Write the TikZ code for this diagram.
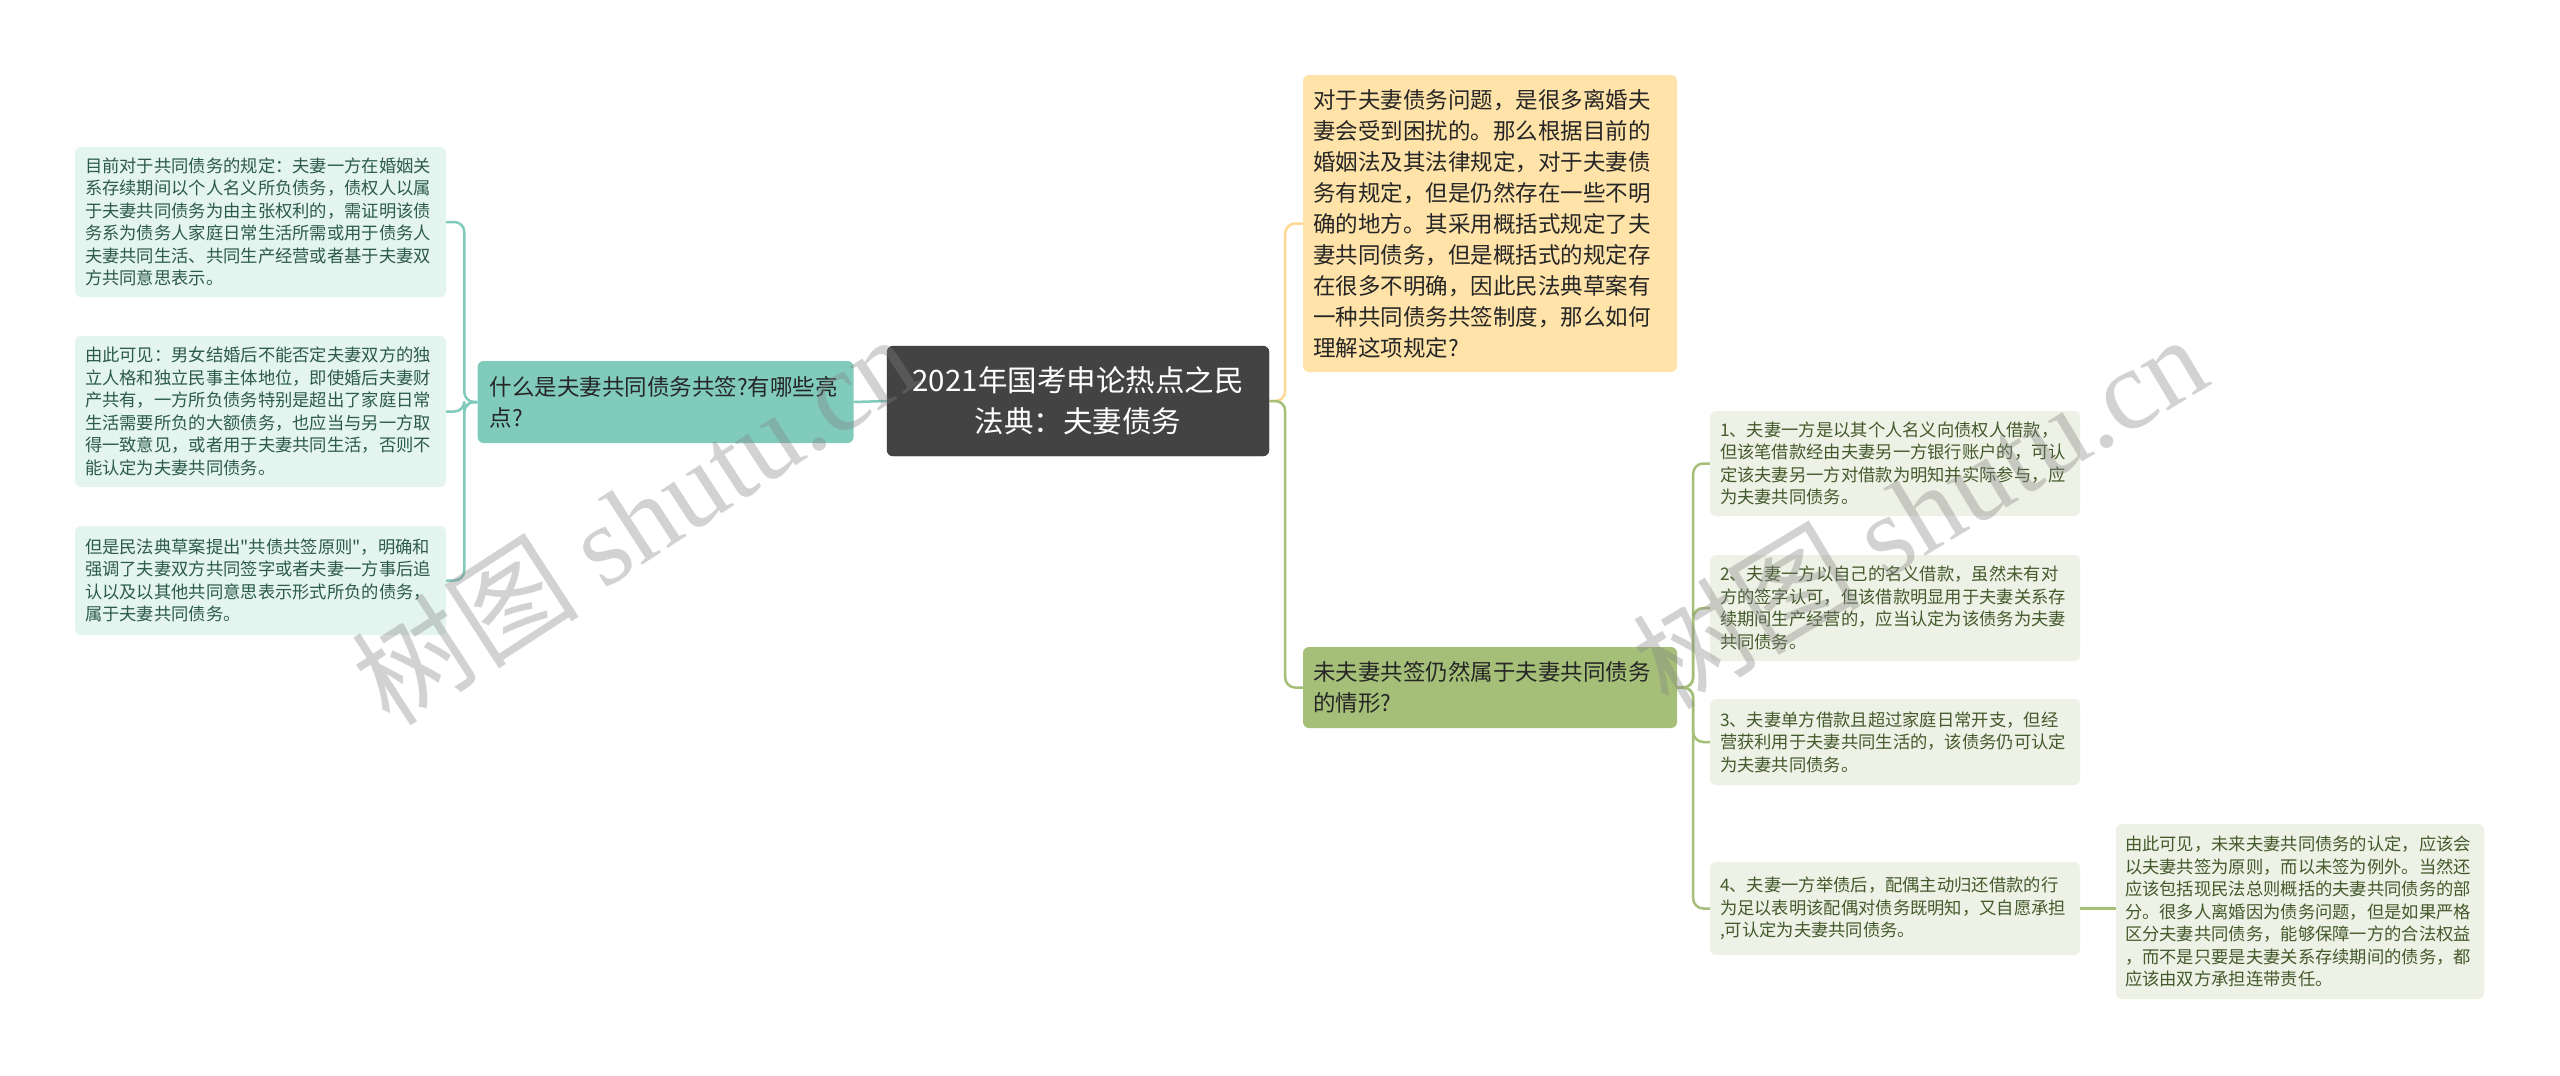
\documentclass[tikz,border=0pt]{standalone}
\usepackage{fontspec}
\setmainfont{Noto Sans CJK SC}[Ligatures=TeXOff]
\newfontfamily\markfont{Liberation Serif}

\definecolor{rootgray}{HTML}{434343}
\definecolor{rootedge}{HTML}{2E2E2E}
\definecolor{tealmid}{HTML}{80CBBC}
\definecolor{tealpale}{HTML}{E4F4EF}
\definecolor{tealink}{HTML}{2C5A4C}
\definecolor{apricot}{HTML}{FFE3A8}
\definecolor{apricotline}{HTML}{FFD993}
\definecolor{olivemid}{HTML}{A5BF79}
\definecolor{olivepale}{HTML}{EEF1E5}
\definecolor{oliveink}{HTML}{435A2C}

\tikzset{
  box/.style={rounded corners=6pt, inner xsep=10pt, inner ysep=0pt, align=left},
  rootbox/.style={box, fill=rootgray, draw=rootedge, text=white, align=center,
    font=\fontsize{29.5}{41}\selectfont},
  topic/.style={box, font=\fontsize{22.5}{31}\selectfont, text=black!85},
  leaf/.style={box, font=\fontsize{17.3}{22.5}\selectfont},
  tealleaf/.style={leaf, fill=tealpale, text=tealink},
  oliveleaf/.style={leaf, fill=olivepale, text=oliveink},
  link/.style={line width=2.5pt, rounded corners=10pt},
  watermark/.style={text=gray, text opacity=0.35, font=\fontsize{114}{114}\selectfont}
}

\begin{document}
\begin{tikzpicture}[x=1pt, y=-1pt]
  \useasboundingbox[fill=white] (0,0) rectangle (2560,1076);

  % centre
  \node[rootbox, text width=362pt, minimum height=110pt] (root) at (1078,401)
    {2021年国考申论热点之民\\法典：夫妻债务};

  % left branch
  \node[topic, fill=tealmid, text width=352pt, inner xsep=12pt, minimum height=82pt] (sign) at (665.5,402)
    {什么是夫妻共同债务共签?有哪些亮\\点?};
  \node[tealleaf, text width=351pt, minimum height=150pt] (rule) at (260.5,222)
    {目前对于共同债务的规定：夫妻一方在婚姻关\\
     系存续期间以个人名义所负债务，债权人以属\\
     于夫妻共同债务为由主张权利的，需证明该债\\
     务系为债务人家庭日常生活所需或用于债务人\\
     夫妻共同生活、共同生产经营或者基于夫妻双\\
     方共同意思表示。};
  \node[tealleaf, text width=351pt, minimum height=151pt] (equal) at (260.5,411.5)
    {由此可见：男女结婚后不能否定夫妻双方的独\\
     立人格和独立民事主体地位，即使婚后夫妻财\\
     产共有，一方所负债务特别是超出了家庭日常\\
     生活需要所负的大额债务，也应当与另一方取\\
     得一致意见，或者用于夫妻共同生活，否则不\\
     能认定为夫妻共同债务。};
  \node[tealleaf, text width=351pt, minimum height=109pt] (draft) at (260.5,580.5)
    {但是民法典草案提出"共债共签原则"，明确和\\
     强调了夫妻双方共同签字或者夫妻一方事后追\\
     认以及以其他共同意思表示形式所负的债务，\\
     属于夫妻共同债务。};

  % right branch
  \node[topic, fill=apricot, text width=354pt, minimum height=297pt] (question) at (1490,223.5)
    {对于夫妻债务问题，是很多离婚夫\\
     妻会受到困扰的。那么根据目前的\\
     婚姻法及其法律规定，对于夫妻债\\
     务有规定，但是仍然存在一些不明\\
     确的地方。其采用概括式规定了夫\\
     妻共同债务，但是概括式的规定存\\
     在很多不明确，因此民法典草案有\\
     一种共同债务共签制度，那么如何\\
     理解这项规定?};
  \node[topic, fill=olivemid, text width=354pt, minimum height=81pt] (unsigned) at (1490,687.5)
    {未夫妻共签仍然属于夫妻共同债务\\的情形?};

  \node[oliveleaf, text width=350pt, minimum height=105pt] (caseA) at (1895,463.5)
    {1、夫妻一方是以其个人名义向债权人借款，\\
     但该笔借款经由夫妻另一方银行账户的，可认\\
     定该夫妻另一方对借款为明知并实际参与，应\\
     为夫妻共同债务。};
  \node[oliveleaf, text width=350pt, minimum height=106pt] (caseB) at (1895,608)
    {2、夫妻一方以自己的名义借款，虽然未有对\\
     方的签字认可，但该借款明显用于夫妻关系存\\
     续期间生产经营的，应当认定为该债务为夫妻\\
     共同债务。};
  \node[oliveleaf, text width=350pt, minimum height=86pt] (caseC) at (1895,742)
    {3、夫妻单方借款且超过家庭日常开支，但经\\
     营获利用于夫妻共同生活的，该债务仍可认定\\
     为夫妻共同债务。};
  \node[oliveleaf, text width=350pt, minimum height=93pt] (caseD) at (1895,908.5)
    {4、夫妻一方举债后，配偶主动归还借款的行\\
     为足以表明该配偶对债务既明知，又自愿承担\\
     ,可认定为夫妻共同债务。};
  \node[oliveleaf, text width=350pt, inner xsep=9pt, minimum height=175pt] (summary) at (2300,911.5)
    {由此可见，未来夫妻共同债务的认定，应该会\\
     以夫妻共签为原则，而以未签为例外。当然还\\
     应该包括现民法总则概括的夫妻共同债务的部\\
     分。很多人离婚因为债务问题，但是如果严格\\
     区分夫妻共同债务，能够保障一方的合法权益\\
     ，而不是只要是夫妻关系存续期间的债务，都\\
     应该由双方承担连带责任。};

  % connectors
  \draw[link, draw=tealmid] (root.west) -- (sign.east);
  \foreach \n in {rule, equal, draft}
    \draw[link, draw=tealmid] (sign.west) -- ++(-13,0) |- (\n.east);
  \draw[link, draw=apricotline] (root.east) -- ++(16,0) |- (question.west);
  \draw[link, draw=olivemid] (root.east) -- ++(16,0) |- (unsigned.west);
  \foreach \n in {caseA, caseB, caseC, caseD}
    \draw[link, draw=olivemid] (unsigned.east) -- ++(16,0) |- (\n.west);
  \draw[link, draw=olivemid] (caseD.east) -- (caseD.east -| summary.west);

  % watermarks
  \node[watermark, rotate=33] (markL) at (634,519) {树图 {\markfont shutu.cn}};
  \node[watermark, rotate=31] (markR) at (1919,510) {树图 {\markfont shutu.cn}};
\end{tikzpicture}
\end{document}
